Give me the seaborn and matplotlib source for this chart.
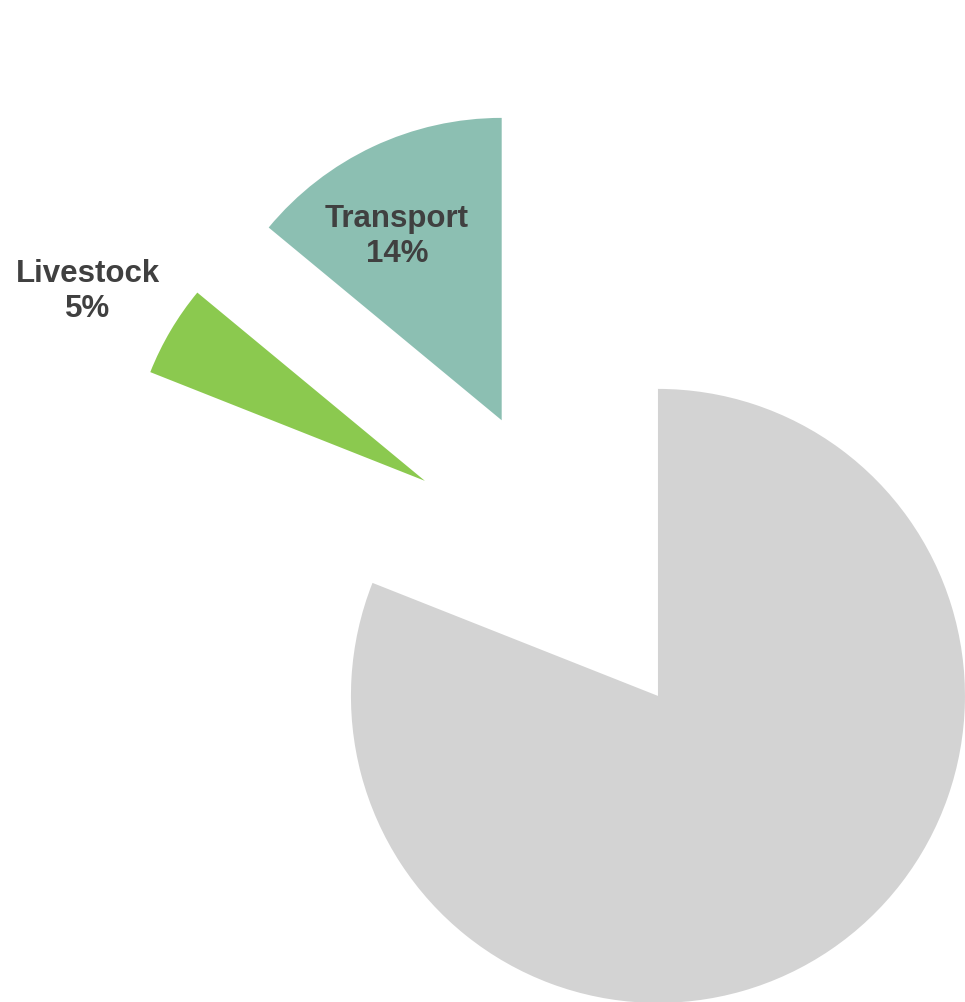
import numpy as np
import matplotlib
matplotlib.use("Agg")
import matplotlib.pyplot as plt
import seaborn as sns

sns.set_theme(style="white")
plt.rcParams['font.family'] = ['Liberation Sans', 'DejaVu Sans']

categories = ["Transport", "Livestock", "Other"]
values = [14, 5, 81]
show_label = [True, True, False]
colors = ["#8cbfb2", "#8bc94f", "#d3d3d3"]

# style: explode offsets (distance in radii, direction in degrees) and radius scale
offsets = {"Transport": (1.032, 119.55, 0.985), "Livestock": (1.033, 137.3, 0.962)}
label_pos = {"Transport": (-0.85, 1.50), "Livestock": (-1.857, 1.32)}

fig = plt.figure(figsize=(9.65, 10.03), dpi=100)
ax = fig.add_axes([0, 0, 1, 1])
wedges, _ = ax.pie(values, colors=colors, startangle=90, counterclock=True,
                   radius=1.0, wedgeprops=dict(linewidth=0))
for w, cat in zip(wedges, categories):
    if cat in offsets:
        d, a, r = offsets[cat]
        w.set_center((d * np.cos(np.radians(a)), d * np.sin(np.radians(a))))
        w.set_radius(r)

for cat, v, s in zip(categories, values, show_label):
    if s:
        x, y = label_pos[cat]
        ax.text(x, y, f"{cat}\n{v}%", ha="center", va="center",
                fontsize=22.5, fontweight="bold", color="#404040", linespacing=1.2)

ax.set_xlim(-2.143, 1.0)
ax.set_ylim(-0.997, 2.270)
ax.set_aspect("equal")
ax.axis("off")
fig.savefig("out.png", dpi=100)
